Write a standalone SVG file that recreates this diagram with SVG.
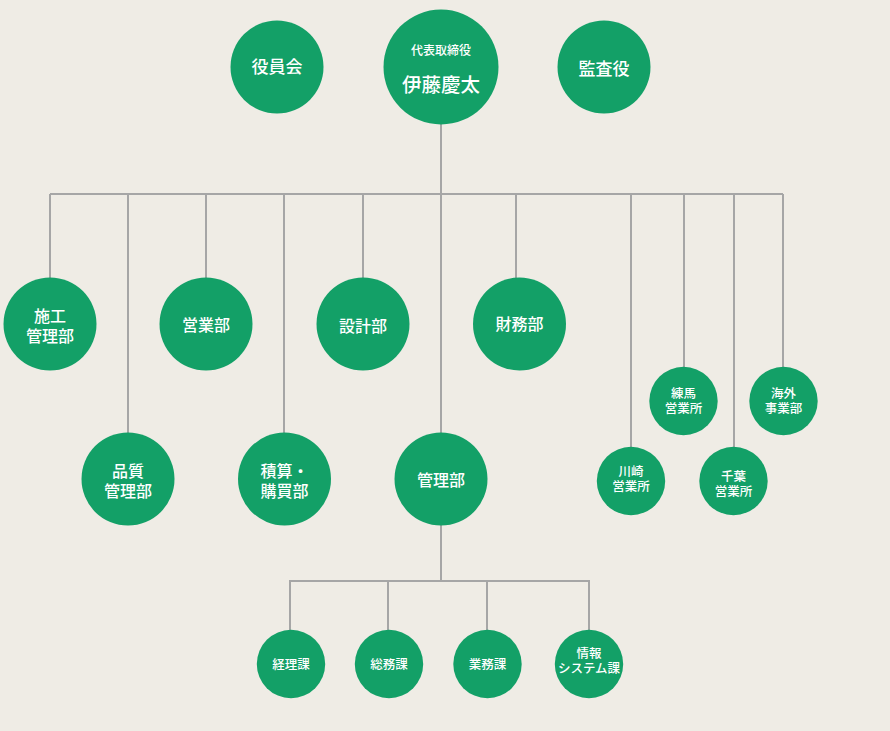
<svg xmlns="http://www.w3.org/2000/svg" width="890" height="731" viewBox="0 0 890 731">
<style>
.bg{fill:#efece5}
.n{fill:#13a067}
.c{fill:none;stroke:#a6a6a6;stroke-width:2}
text{fill:#ffffff;font-family:"Liberation Sans","Noto Sans CJK JP",sans-serif;text-anchor:middle;dominant-baseline:central;font-weight:500}
.l{font-size:16px}
.t{font-size:17px}
.s{font-size:12.5px}
</style>
<rect class="bg" x="0" y="0" width="890" height="731"/>
<g id="connectors">
<path class="c" d="M441,124V581M50,194H783M50,194V278M128,194V433M206,194V278M284,194V433M363,194V278M516,194V278M631,194V447M684,194V367M734,194V447M783,194V367"/>
<path class="c" d="M290,631V581H589V631M388,581V631M487,581V631"/>
</g>
<g id="n-yakuinkai"><circle class="n" cx="277" cy="67" r="46.5"/><text class="t" x="277" y="67.5">役員会</text></g>
<g id="n-ceo"><circle class="n" cx="441" cy="67" r="57.5"/><text x="441" y="51.1" style="font-size:12px">代表取締役</text><text x="441" y="84.7" style="font-size:19.5px">伊藤慶太</text></g>
<g id="n-kansayaku"><circle class="n" cx="604" cy="67" r="46.5"/><text class="t" x="604" y="69">監査役</text></g>
<g id="n-sekou"><circle class="n" cx="50" cy="324" r="46.5"/><text class="l"><tspan x="50" y="315.5">施工</tspan><tspan x="50" y="335.5">管理部</tspan></text></g>
<g id="n-eigyou"><circle class="n" cx="206" cy="324" r="46.5"/><text class="l" x="206" y="325.5">営業部</text></g>
<g id="n-sekkei"><circle class="n" cx="363" cy="324" r="46.5"/><text class="l" x="363" y="326.5">設計部</text></g>
<g id="n-zaimu"><circle class="n" cx="519.5" cy="324" r="46.5"/><text class="l" x="519.5" y="324">財務部</text></g>
<g id="n-hinshitsu"><circle class="n" cx="128" cy="479" r="46.5"/><text class="l"><tspan x="128" y="470.5">品質</tspan><tspan x="128" y="490.5">管理部</tspan></text></g>
<g id="n-sekisan"><circle class="n" cx="284.5" cy="479" r="46.5"/><text class="l"><tspan x="284.5" y="471">積算・</tspan><tspan x="284.5" y="491">購買部</tspan></text></g>
<g id="n-kanri"><circle class="n" cx="441" cy="479" r="46.5"/><text class="l" x="441" y="480.5">管理部</text></g>
<g id="n-nerima"><circle class="n" cx="683.5" cy="401" r="34.2"/><text class="s"><tspan x="683.5" y="393.6">練馬</tspan><tspan x="683.5" y="408.6">営業所</tspan></text></g>
<g id="n-kaigai"><circle class="n" cx="783.5" cy="401" r="34.2"/><text class="s"><tspan x="783.5" y="393.6">海外</tspan><tspan x="783.5" y="408.6">事業部</tspan></text></g>
<g id="n-kawasaki"><circle class="n" cx="631" cy="481" r="34.2"/><text class="s"><tspan x="631" y="472.1">川崎</tspan><tspan x="631" y="487.1">営業所</tspan></text></g>
<g id="n-chiba"><circle class="n" cx="733.5" cy="481" r="34.2"/><text class="s"><tspan x="733.5" y="477.1">千葉</tspan><tspan x="733.5" y="492.1">営業所</tspan></text></g>
<g id="n-keiri"><circle class="n" cx="291" cy="664" r="34.2"/><text class="s" x="291" y="665.1">経理課</text></g>
<g id="n-soumu"><circle class="n" cx="389" cy="664" r="34.2"/><text class="s" x="389" y="665.1">総務課</text></g>
<g id="n-gyoumu"><circle class="n" cx="487.5" cy="664" r="34.2"/><text class="s" x="487.5" y="665.1">業務課</text></g>
<g id="n-jouhou"><circle class="n" cx="589" cy="664" r="34.2"/><text class="s"><tspan x="589" y="654.1">情報</tspan><tspan x="589" y="669.1">システム課</tspan></text></g>
</svg>
